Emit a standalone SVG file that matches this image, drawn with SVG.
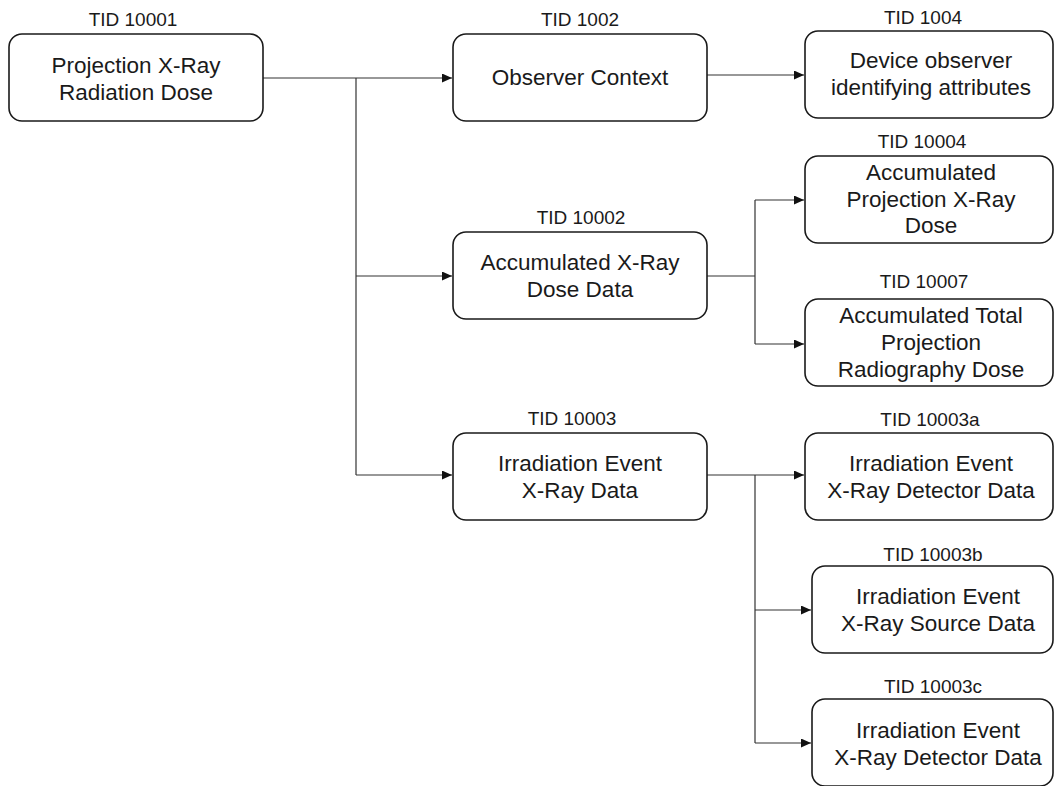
<svg xmlns="http://www.w3.org/2000/svg" width="1054" height="786" viewBox="0 0 1054 786">
<style>
.box{fill:#fff;stroke:#1a1a1a;stroke-width:1.6}
.t{font-family:"Liberation Sans",Arial,sans-serif;font-size:22.5px;fill:#1a1a1a;text-anchor:middle}
.l{font-family:"Liberation Sans",Arial,sans-serif;font-size:19px;fill:#1a1a1a;text-anchor:middle}
.c{fill:none;stroke:#333;stroke-width:1.2}
</style>
<defs>
<marker id="ah" markerUnits="userSpaceOnUse" markerWidth="11" markerHeight="10" refX="10" refY="4.5" orient="auto">
<path d="M0,0 L10,4.5 L0,9 z" fill="#111"/>
</marker>
</defs>
<rect width="1054" height="786" fill="#fff"/>
<g id="connectors">
<path class="c" d="M263,78 H452" marker-end="url(#ah)"/>
<path class="c" d="M356,78 V475"/>
<path class="c" d="M356,276 H452" marker-end="url(#ah)"/>
<path class="c" d="M356,475 H452" marker-end="url(#ah)"/>
<path class="c" d="M707,75 H804" marker-end="url(#ah)"/>
<path class="c" d="M707,276 H755"/>
<path class="c" d="M755,200 V344"/>
<path class="c" d="M755,200 H804" marker-end="url(#ah)"/>
<path class="c" d="M755,344 H804" marker-end="url(#ah)"/>
<path class="c" d="M707,475 H804" marker-end="url(#ah)"/>
<path class="c" d="M755,475 V743"/>
<path class="c" d="M755,610 H811" marker-end="url(#ah)"/>
<path class="c" d="M755,743 H811" marker-end="url(#ah)"/>
</g>
<g id="n10001">
<text class="l" x="133" y="26">TID 10001</text>
<rect class="box" x="9" y="34" width="254" height="87" rx="13"/>
<text class="t" x="136" y="73">Projection X-Ray</text>
<text class="t" x="136" y="100">Radiation Dose</text>
</g>
<g id="n1002">
<text class="l" x="580" y="26">TID 1002</text>
<rect class="box" x="453" y="34" width="254" height="87" rx="13"/>
<text class="t" x="580" y="85">Observer Context</text>
</g>
<g id="n1004">
<text class="l" x="923" y="24">TID 1004</text>
<rect class="box" x="805" y="31" width="248" height="87" rx="13"/>
<text class="t" x="931" y="68">Device observer</text>
<text class="t" x="931" y="95">identifying attributes</text>
</g>
<g id="n10002">
<text class="l" x="581" y="224">TID 10002</text>
<rect class="box" x="453" y="232" width="254" height="87" rx="13"/>
<text class="t" x="580" y="270">Accumulated X-Ray</text>
<text class="t" x="580" y="297">Dose Data</text>
</g>
<g id="n10004">
<text class="l" x="922" y="148">TID 10004</text>
<rect class="box" x="805" y="156" width="248" height="87" rx="13"/>
<text class="t" x="931" y="180">Accumulated</text>
<text class="t" x="931" y="207">Projection X-Ray</text>
<text class="t" x="931" y="233">Dose</text>
</g>
<g id="n10007">
<text class="l" x="924" y="288">TID 10007</text>
<rect class="box" x="805" y="299" width="248" height="87" rx="13"/>
<text class="t" x="931" y="323">Accumulated Total</text>
<text class="t" x="931" y="350">Projection</text>
<text class="t" x="931" y="377">Radiography Dose</text>
</g>
<g id="n10003">
<text class="l" x="572" y="425">TID 10003</text>
<rect class="box" x="453" y="433" width="254" height="87" rx="13"/>
<text class="t" x="580" y="471">Irradiation Event</text>
<text class="t" x="580" y="498">X-Ray Data</text>
</g>
<g id="n10003a">
<text class="l" x="930" y="426">TID 10003a</text>
<rect class="box" x="805" y="433" width="248" height="87" rx="13"/>
<text class="t" x="931" y="471">Irradiation Event</text>
<text class="t" x="931" y="498">X-Ray Detector Data</text>
</g>
<g id="n10003b">
<text class="l" x="933" y="561">TID 10003b</text>
<rect class="box" x="812" y="566" width="241" height="87" rx="13"/>
<text class="t" x="938" y="604">Irradiation Event</text>
<text class="t" x="938" y="631">X-Ray Source Data</text>
</g>
<g id="n10003c">
<text class="l" x="933" y="693">TID 10003c</text>
<rect class="box" x="812" y="699" width="241" height="87" rx="13"/>
<text class="t" x="938" y="738">Irradiation Event</text>
<text class="t" x="938" y="765">X-Ray Detector Data</text>
</g>
</svg>
